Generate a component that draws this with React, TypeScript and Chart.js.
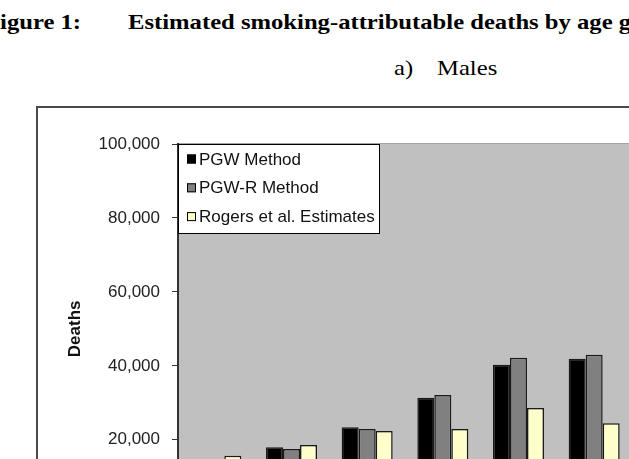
import React, { useEffect, useRef } from 'react';
import { Chart, registerables } from 'chart.js';

Chart.register(...registerables);

// ---- data ----
const categories = ['35-44', '45-54', '55-64', '65-74', '75-84', '85+'];
const seriesLabels = ['PGW Method', 'PGW-R Method', 'Rogers et al. Estimates'];
const pgwValues = [8500, 18000, 23400, 31400, 40300, 41900];
const pgwRValues = [8000, 17500, 22900, 32100, 42200, 43000];
const rogersValues = [15700, 18600, 22400, 22900, 28600, 24500];
const yTickValues = [0, 20000, 40000, 60000, 80000, 100000];
const seriesColors = ['#000000', '#808080', '#ffffcc'];

const SANS = "'Liberation Sans', Arial, sans-serif";
const SERIF = "'Liberation Serif', 'Times New Roman', serif";

const plotBackground = {
  id: 'plotBackground',
  beforeDraw(chart: any) {
    const { ctx, chartArea: a } = chart;
    ctx.save();
    ctx.fillStyle = '#c0c0c0';
    ctx.fillRect(a.left, a.top, a.right - a.left, a.bottom - a.top);
    ctx.strokeStyle = '#a4a4a4';
    ctx.lineWidth = 1;
    ctx.beginPath();
    ctx.moveTo(a.left, a.top - 0.5);
    ctx.lineTo(a.right, a.top - 0.5);
    ctx.stroke();
    ctx.restore();
  },
};

const boxedLegend = {
  id: 'boxedLegend',
  afterDraw(chart: any) {
    const { ctx, chartArea: a } = chart;
    const datasets = chart.data.datasets;
    const boxW = 201;
    const boxH = 89;
    ctx.save();
    ctx.fillStyle = '#ffffff';
    ctx.fillRect(a.left, a.top, boxW, boxH);
    ctx.strokeStyle = '#000000';
    ctx.lineWidth = 1;
    ctx.strokeRect(a.left + 0.5, a.top + 0.5, boxW, boxH);
    ctx.font = `17px ${SANS}`;
    ctx.textBaseline = 'middle';
    ctx.textAlign = 'left';
    datasets.forEach((ds: any, i: number) => {
      const cy = a.top + 15 + i * 28.8;
      const mx = a.left + 9;
      ctx.fillStyle = ds.backgroundColor;
      ctx.fillRect(mx, cy - 4.5, 9, 9);
      ctx.strokeStyle = '#000000';
      ctx.lineWidth = 1;
      ctx.strokeRect(mx + 0.5, cy - 4, 8, 8);
      ctx.fillStyle = '#111111';
      ctx.fillText(ds.label, a.left + 21, cy + 1);
    });
    ctx.restore();
  },
};

export default function App() {
  const canvasRef = useRef<HTMLCanvasElement | null>(null);

  useEffect(() => {
    if (!canvasRef.current) return;
    const valueSets = [pgwValues, pgwRValues, rogersValues];
    const chart = new Chart(canvasRef.current, {
      type: 'bar',
      data: {
        labels: categories,
        datasets: seriesLabels.map((label, i) => ({
          label,
          data: valueSets[i],
          backgroundColor: seriesColors[i],
          borderColor: '#1a1a1a',
          borderWidth: 1.5,
          categoryPercentage: 0.674,
          barPercentage: 1.0,
        })),
      },
      options: {
        animation: false,
        responsive: false,
        maintainAspectRatio: false,
        devicePixelRatio: 1,
        layout: { padding: { left: 0, top: 36, right: 106, bottom: 0 } },
        plugins: {
          legend: { display: false },
          tooltip: { enabled: false },
          title: { display: false },
        },
        scales: {
          x: {
            type: 'category',
            grid: { display: false },
            border: { display: true, color: '#333333', width: 2 },
            ticks: { font: { family: SANS, size: 17 }, color: '#222222' },
            afterFit(s: any) {
              s.height = 94.25;
            },
          },
          y: {
            min: 0,
            max: 100000,
            afterBuildTicks(s: any) {
              s.ticks = yTickValues.map((v) => ({ value: v }));
            },
            ticks: {
              padding: 12,
              font: { family: SANS, size: 17 },
              color: '#222222',
              callback: (v: any) => Number(v).toLocaleString('en-US'),
            },
            grid: {
              display: true,
              drawOnChartArea: false,
              drawTicks: true,
              tickLength: 6,
              tickColor: '#333333',
              tickWidth: 1,
            },
            border: { display: true, color: '#333333', width: 2 },
            title: {
              display: true,
              text: 'Deaths',
              color: '#111111',
              font: { family: SANS, size: 17, weight: 'bold' },
              padding: { top: 27, bottom: 0 },
            },
            afterFit(s: any) {
              s.width = 140;
            },
          },
        },
      },
      plugins: [plotBackground, boxedLegend],
    } as any);
    return () => chart.destroy();
  }, []);

  const titleStyle: React.CSSProperties = {
    position: 'absolute',
    whiteSpace: 'nowrap',
    fontFamily: SERIF,
    fontSize: '22px',
    lineHeight: '22px',
    color: '#000',
    transform: 'scaleX(1.12)',
    transformOrigin: 'left top',
  };

  return (
    <div
      style={{
        position: 'fixed',
        left: 0,
        top: 0,
        width: 629,
        height: 459,
        overflow: 'hidden',
        background: '#ffffff',
      }}
    >
      <div style={{ ...titleStyle, left: -15, top: 11, fontWeight: 'bold' }}>Figure 1:</div>
      <div style={{ ...titleStyle, left: 128, top: 11, fontWeight: 'bold' }}>
        Estimated smoking-attributable deaths by age group
      </div>
      <div style={{ ...titleStyle, left: 394, top: 57 }}>a)</div>
      <div style={{ ...titleStyle, left: 437, top: 57 }}>Males</div>
      <div
        style={{
          position: 'absolute',
          left: 36,
          top: 106,
          width: 700,
          height: 500,
          border: '2px solid #4a4a4a',
        }}
      >
        <canvas ref={canvasRef} width={700} height={500} style={{ display: 'block' }} />
      </div>
    </div>
  );
}
